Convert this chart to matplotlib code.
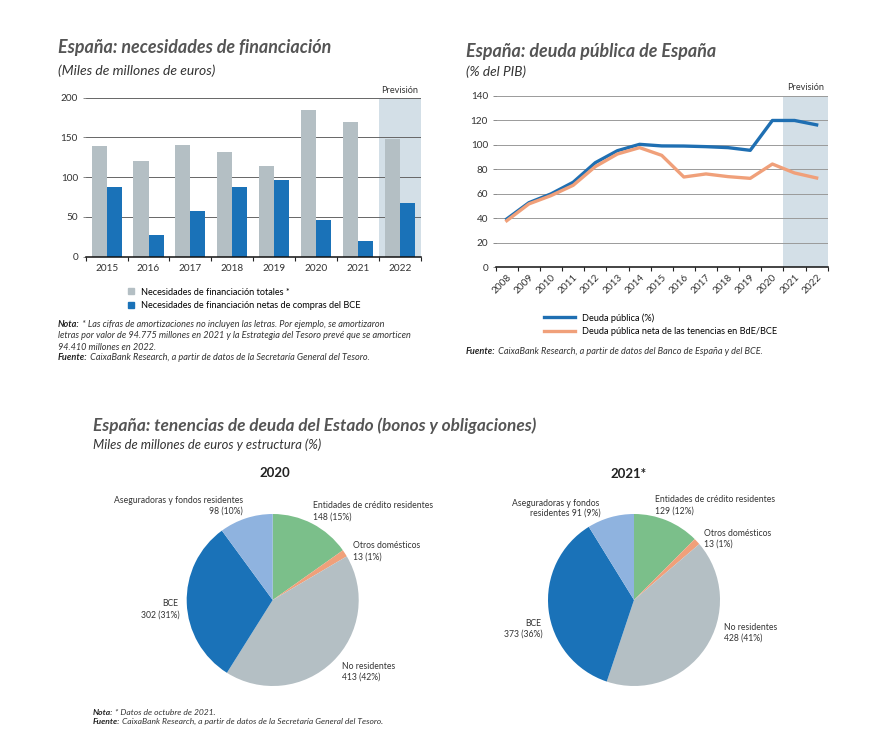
import matplotlib
matplotlib.use("Agg")
import matplotlib.pyplot as plt
from matplotlib.patches import Patch
from matplotlib.lines import Line2D

plt.rcParams["font.family"] = ["Lato", "DejaVu Sans"]

# --- data ---
bar_years = ["2015", "2016", "2017", "2018", "2019", "2020", "2021", "2022"]
needs_total = [139, 120, 140, 132, 114, 184, 170, 148]
needs_net_bce = [88, 27, 57, 88, 97, 46, 20, 68]

debt_years = [str(y) for y in range(2008, 2023)]
debt_total = [39.5, 52.8, 60.0, 69.5, 85.5, 95.3, 100.5, 99.2, 99.1, 98.6, 97.8, 95.6, 120.0, 120.0, 116.4]
debt_net = [38.1, 51.8, 58.6, 67.0, 82.3, 92.6, 97.8, 91.5, 73.8, 76.3, 74.1, 72.7, 84.4, 77.1, 73.0]

holders = ["Entidades de crédito residentes", "Otros domésticos", "No residentes",
           "BCE", "Aseguradoras y fondos residentes"]
hold_2020 = [148, 13, 413, 302, 98]
hold_2021 = [129, 13, 428, 373, 91]

GREY = "#b4bfc4"
BLUE = "#1a72b8"
ORANGE = "#f0a07a"
GREEN = "#7bbf8a"
LBLUE = "#8fb3df"
SHADE = "#d3dfe7"
TITLE = "#555555"
TXT = "#333333"

W, H = 889, 745
fig = plt.figure(figsize=(W / 100, H / 100), dpi=100)
renderer = fig.canvas.get_renderer()


def box(x0, y0, x1, y1):
    # pixel box (top-left origin) -> figure fraction rect
    return [x0 / W, 1 - y1 / H, (x1 - x0) / W, (y1 - y0) / H]


def ftext(x, y, s, **kw):
    kw.setdefault("va", "center")
    kw.setdefault("color", TXT)
    return fig.text(x / W, 1 - y / H, s, **kw)


def note(x, y, head, body, fs=6.6):
    t = ftext(x, y, head, fontsize=fs, fontweight="bold", style="italic", color="#222222")
    bb = t.get_window_extent(renderer=renderer)
    fig.text(bb.x1 / W, 1 - y / H, body, fontsize=fs, style="italic", color=TXT, va="center")


def style_cat_axis(ax, n, labels, fs=7.2):
    ax.set_xlim(-0.5, n - 0.5)
    ax.set_xticks([i - 0.5 for i in range(n + 1)])
    ax.set_xticklabels([])
    ax.set_xticks(range(n), minor=True)
    ax.set_xticklabels(labels, minor=True, fontsize=fs, color=TXT)
    ax.tick_params(axis="x", which="major", length=3, width=0.8, color="#222222")
    ax.tick_params(axis="x", which="minor", length=0, pad=5)
    for s in ["top", "right", "left"]:
        ax.spines[s].set_visible(False)
    ax.spines["bottom"].set_linewidth(1.1)
    ax.spines["bottom"].set_color("#111111")
    ax.tick_params(axis="y", length=2, width=0.6, color="#777777", labelsize=7.2, labelcolor=TXT)


# --- bar chart ---
ax1 = fig.add_axes(box(85.7, 97.7, 420.7, 256.7))
x = range(len(bar_years))
ax1.axvspan(6.5, 7.5, color=SHADE, lw=0, zorder=0)
ax1.bar([i - 0.18 for i in x], needs_total, 0.36, color=GREY, zorder=2)
ax1.bar([i + 0.18 for i in x], needs_net_bce, 0.36, color=BLUE, zorder=2)
ax1.set_ylim(0, 200)
ax1.set_yticks([0, 50, 100, 150, 200])
ax1.grid(axis="y", color="#666666", lw=0.7, zorder=1)
ax1.set_axisbelow(True)
style_cat_axis(ax1, len(bar_years), bar_years)
ax1.text(7.0, 203, "Previsión", ha="center", va="bottom", fontsize=6.6, color=TXT)

ftext(58, 47, "España: necesidades de financiación", fontsize=12.9, fontweight="bold",
      style="italic", color=TITLE)
ftext(58, 71, "(Miles de millones de euros)", fontsize=10, style="italic", color=TXT)

ax1.legend(handles=[Patch(color=GREY), Patch(color=BLUE)],
           labels=["Necesidades de financiación totales *",
                   "Necesidades de financiación netas de compras del BCE"],
           loc="upper left", bbox_to_anchor=(128 / W, 1 - 287.5 / H),
           bbox_transform=fig.transFigure, frameon=False, fontsize=6.6,
           handlelength=0.6, handleheight=0.6, handletextpad=0.8, labelspacing=0.5,
           borderpad=0, borderaxespad=0)

note(58, 325, "Nota:", " * Las cifras de amortizaciones no incluyen las letras. Por ejemplo, se amortizaron")
ftext(58, 336, "letras por valor de 94.775 millones en 2021 y la Estrategia del Tesoro prevé que se amorticen",
      fontsize=6.6, style="italic")
ftext(58, 347, "94.410 millones en 2022.", fontsize=6.6, style="italic")
note(58, 358, "Fuente:", " CaixaBank Research, a partir de datos de la Secretaría General del Tesoro.")

# --- line chart ---
ax2 = fig.add_axes(box(495.7, 96, 827.7, 267.3))
xl = range(len(debt_years))
ax2.axvspan(12.5, 14.5, color=SHADE, lw=0, zorder=0)
ax2.plot(xl, debt_total, color="#1f6fb2", lw=2.4, zorder=3)
ax2.plot(xl, debt_net, color=ORANGE, lw=2.4, zorder=3)
ax2.set_ylim(0, 140)
ax2.set_yticks(range(0, 141, 20))
ax2.grid(axis="y", color="#9a9a9a", lw=0.7, zorder=1)
ax2.set_axisbelow(True)
style_cat_axis(ax2, len(debt_years), debt_years)
for lab in ax2.get_xticklabels(minor=True):
    lab.set_rotation(45)
    lab.set_ha("right")
    lab.set_rotation_mode("anchor")
ax2.tick_params(axis="x", which="minor", pad=4)
ax2.text(13.5, 143, "Previsión", ha="center", va="bottom", fontsize=6.6, color=TXT)

ftext(466, 51, "España: deuda pública de España", fontsize=12.9, fontweight="bold",
      style="italic", color=TITLE)
ftext(466, 72, "(% del PIB)", fontsize=9.8, style="italic", color=TXT)

ax2.legend(handles=[Line2D([], [], color="#1f6fb2", lw=2.4), Line2D([], [], color=ORANGE, lw=2.4)],
           labels=["Deuda pública (%)", "Deuda pública neta de las tenencias en BdE/BCE"],
           loc="upper left", bbox_to_anchor=(544 / W, 1 - 313 / H),
           bbox_transform=fig.transFigure, frameon=False, fontsize=6.6,
           handlelength=3.4, handletextpad=0.8, labelspacing=0.5,
           borderpad=0, borderaxespad=0)

note(466, 351, "Fuente:", " CaixaBank Research, a partir de datos del Banco de España y del BCE.")

# --- pies ---
ftext(93, 426, "España: tenencias de deuda del Estado (bonos y obligaciones)", fontsize=12.4,
      fontweight="bold", style="italic", color=TITLE)
ftext(93, 445, "Miles de millones de euros y estructura (%)", fontsize=9.4, style="italic", color=TXT)

pie_colors = [GREEN, ORANGE, GREY, BLUE, LBLUE]
R = 86


def pie(cx, cy, values):
    ax = fig.add_axes(box(cx - R, cy - R, cx + R, cy + R))
    ax.pie(values, colors=pie_colors, startangle=90, counterclock=False,
           wedgeprops=dict(linewidth=0))
    ax.set_xlim(-1, 1)
    ax.set_ylim(-1, 1)
    ax.set_aspect("equal")
    ax.axis("off")
    return ax


def pct(v, vals):
    return f"{v} ({round(100 * v / sum(vals))}%)"


fs = 6.2
pie(272.7, 600, hold_2020)
ftext(275, 473, "2020", fontsize=9.5, fontweight="bold", ha="center", color="#222222")
ftext(243, 500.5, "Aseguradoras y fondos residentes", fontsize=fs, ha="right")
ftext(243, 511, pct(hold_2020[4], hold_2020), fontsize=fs, ha="right")
ftext(312.7, 506, "Entidades de crédito residentes", fontsize=fs)
ftext(312.7, 517, pct(hold_2020[0], hold_2020), fontsize=fs)
ftext(352.7, 546, "Otros domésticos", fontsize=fs)
ftext(352.7, 557, pct(hold_2020[1], hold_2020), fontsize=fs)
ftext(170, 604, "BCE", fontsize=fs, ha="center")
ftext(180, 615.5, pct(hold_2020[3], hold_2020), fontsize=fs, ha="right")
ftext(341.7, 666.5, "No residentes", fontsize=fs)
ftext(341.7, 677.5, pct(hold_2020[2], hold_2020), fontsize=fs)

pie(634, 600, hold_2021)
ftext(629, 474, "2021*", fontsize=9.5, fontweight="bold", ha="center", color="#222222")
ftext(599, 503, "Aseguradoras y fondos", fontsize=fs, ha="right")
ftext(600.7, 513.5, f"residentes {pct(hold_2021[4], hold_2021)}", fontsize=fs, ha="right")
ftext(655, 500, "Entidades de crédito residentes", fontsize=fs)
ftext(655, 510.7, pct(hold_2021[0], hold_2021), fontsize=fs)
ftext(704.3, 534, "Otros domésticos", fontsize=fs)
ftext(704.3, 544.5, pct(hold_2021[1], hold_2021), fontsize=fs)
ftext(533, 623.3, "BCE", fontsize=fs, ha="center")
ftext(542.5, 634, pct(hold_2021[3], hold_2021), fontsize=fs, ha="right")
ftext(724, 627.7, "No residentes", fontsize=fs)
ftext(724, 638.5, pct(hold_2021[2], hold_2021), fontsize=fs)

note(93, 712.5, "Nota:", " * Datos de octubre de 2021.", fs=6.1)
note(93, 721.5, "Fuente:", " CaixaBank Research, a partir de datos de la Secretaría General del Tesoro.", fs=6.1)

fig.savefig("out.png", dpi=100)
